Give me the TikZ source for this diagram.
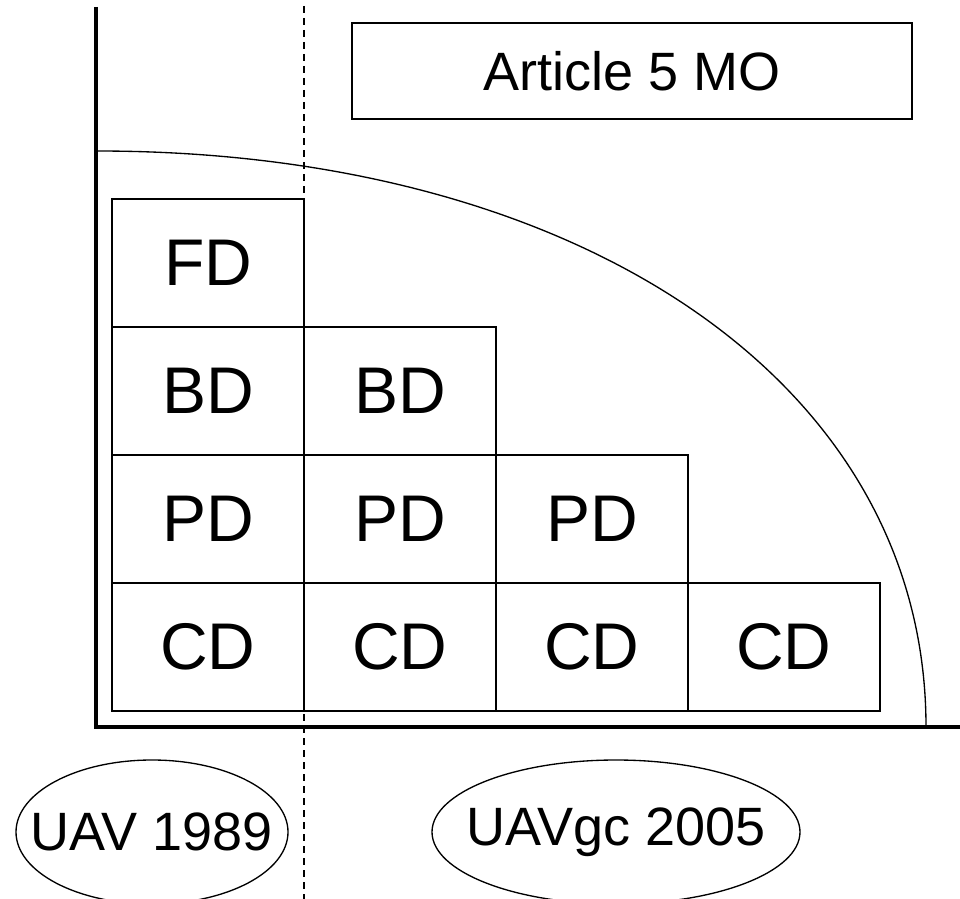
\documentclass[tikz,border=0pt]{standalone}
\usepackage{fontspec}
\setmainfont{Liberation Sans}
\tikzset{
  cell/.style={draw, line width=1pt, rectangle, inner sep=0pt,
    minimum width=144pt, minimum height=96pt,
    font=\fontsize{49.5}{59}\selectfont},
  titlebox/.style={draw, line width=1.2pt, rectangle, inner sep=0pt,
    minimum width=420pt, minimum height=72pt,
    font=\fontsize{40.5}{48}\selectfont},
  eralabel/.style={inner sep=0pt, font=\fontsize{40.5}{48}\selectfont},
  erarim/.style={line width=1pt},
  axis/.style={line width=3.2pt},
  divider/.style={line width=1pt, dash pattern=on 5.25pt off 3.75pt},
  envelope/.style={line width=1pt}
}
\begin{document}
\begin{tikzpicture}[x=0.75pt,y=-0.75pt]
\useasboundingbox (0,0) rectangle (960,899);
% axes
\coordinate (ytop) at (96,7);
\coordinate (xend) at (960,727);
\draw[axis] (ytop) |- (xend);
% envelope curve
\coordinate (cstart) at (97,151);
\coordinate (cend) at (926,727);
\coordinate (c1) at (578,151);
\coordinate (c2) at (926,381);
\draw[envelope] (cstart) .. controls (c1) and (c2) .. (cend);
% cells
\node[cell] (fd)  at (208,263) {FD};
\node[cell] (bd1) at (208,391) {BD};
\node[cell] (bd2) at (400,391) {BD};
\node[cell] (pd1) at (208,519) {PD};
\node[cell] (pd2) at (400,519) {PD};
\node[cell] (pd3) at (592,519) {PD};
\node[cell] (cd1) at (208,647) {CD};
\node[cell] (cd2) at (400,647) {CD};
\node[cell] (cd3) at (592,647) {CD};
\node[cell] (cd4) at (784,647) {CD};
% title box
\node[titlebox] (art) at (632,71) {Article 5 MO};
% dashed divider
\coordinate (dtop) at (304,6);
\coordinate (dbot) at (304,899);
\draw[divider] (dtop) -- (dbot);
% eras
\node[eralabel] (uav) at (152,832) {UAV 1989};
\draw[erarim] (uav.center) ellipse [x radius=136, y radius=72];
\node[eralabel] (uavgc) at (616,832) {UAVgc 2005};
\draw[erarim] (uavgc.center) ellipse [x radius=184, y radius=72];
\end{tikzpicture}
\end{document}
